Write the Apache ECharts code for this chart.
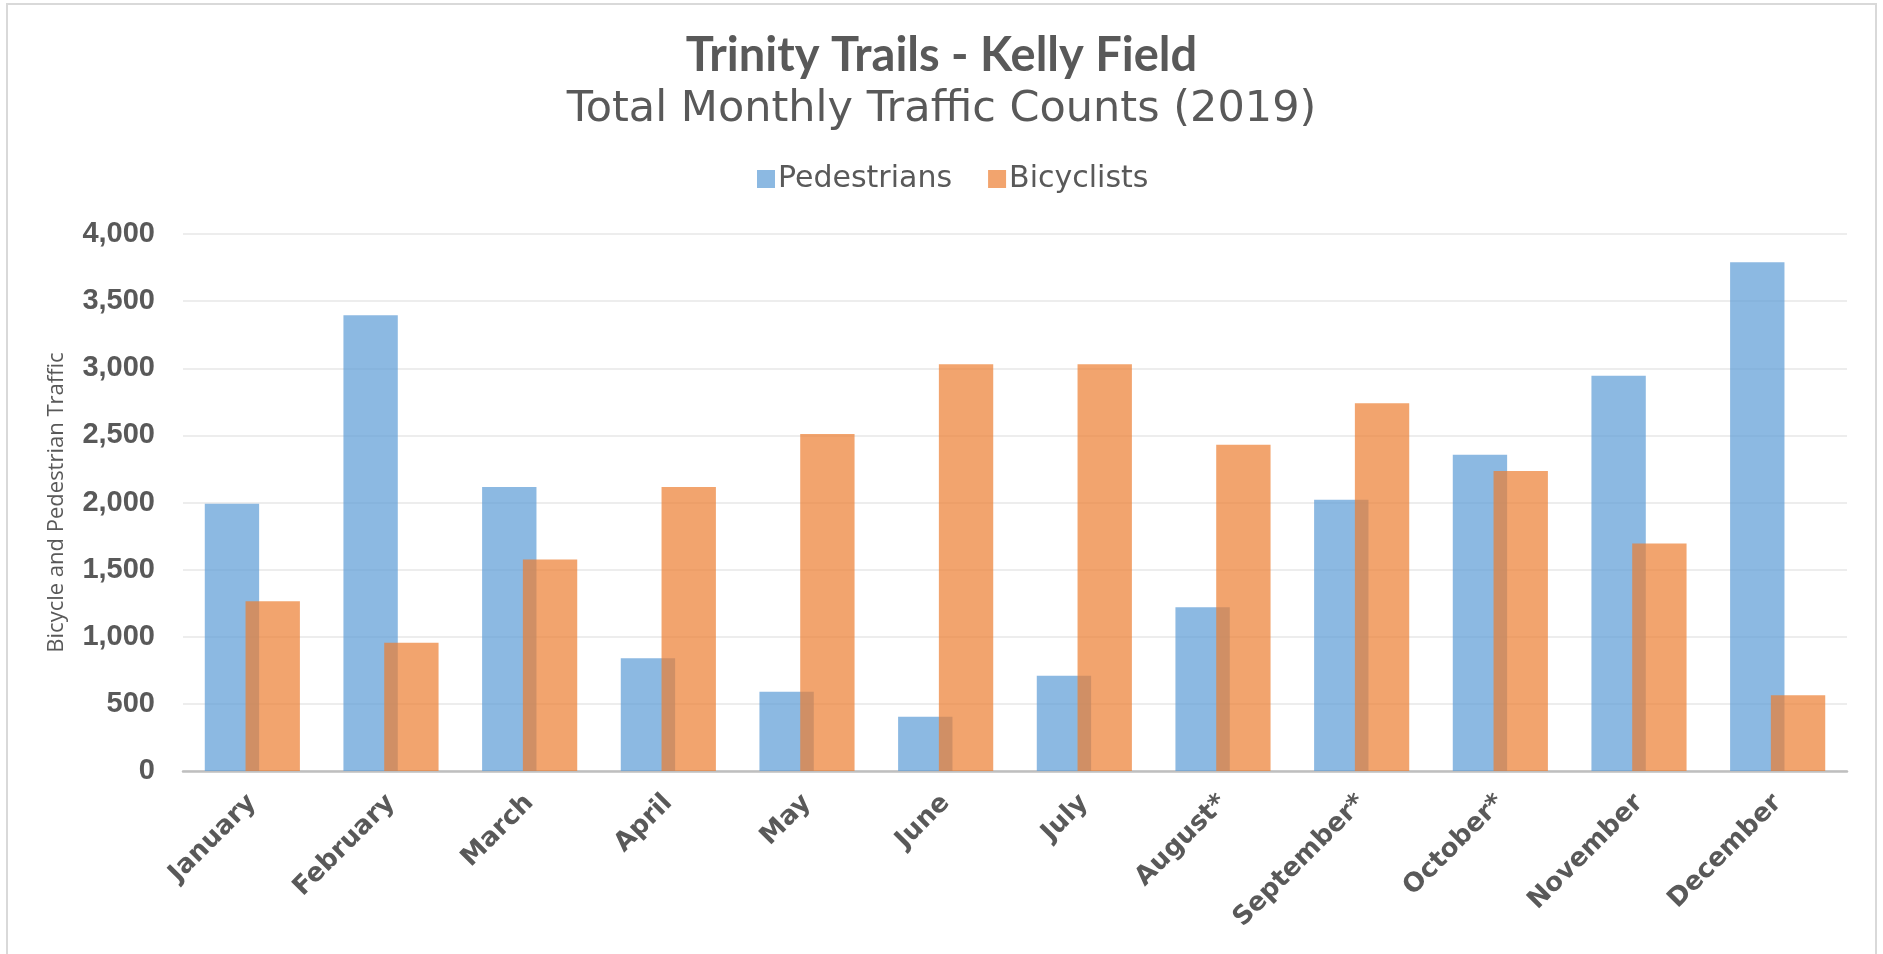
<!DOCTYPE html>
<html>
<head>
<meta charset="utf-8">
<title>Trinity Trails - Kelly Field</title>
<script src="https://cdn.jsdelivr.net/npm/echarts@6/dist/echarts.min.js"></script>
<style>
  html, body { margin: 0; padding: 0; background: #fff; }
  #chart { width: 1883px; height: 954px; }
</style>
</head>
<body>
<div id="chart"></div>
<script>
// 月份
const months = ["January", "February", "March", "April", "May", "June", "July", "August*", "September*", "October*", "November", "December"];
// 行人
const pedestrians = [1990, 3395, 2115, 840, 590, 405, 710, 1220, 2020, 2355, 2945, 3790];
// 骑行
const bicyclists = [1265, 955, 1575, 2115, 2510, 3030, 3030, 2430, 2740, 2235, 1695, 565];

const textColor = "#595959";

const chart = echarts.init(document.getElementById("chart"));

const option = {
  backgroundColor: "#fff",
  animation: false,
  // 外边框
  graphic: [
    {
      type: "rect",
      shape: { x: 7, y: 4, width: 1869, height: 970 },
      style: { fill: "none", stroke: "#D9D9D9", lineWidth: 2 },
      silent: true
    }
  ],
  title: [
    {
      text: "Trinity Trails - Kelly Field",
      left: "center",
      top: 27,
      textStyle: {
        fontFamily: "Lato",
        fontWeight: "bold",
        fontSize: 47,
        lineHeight: 47,
        color: textColor
      }
    },
    {
      text: "Total Monthly Traffic Counts (2019)",
      left: "center",
      top: 83,
      textStyle: {
        fontFamily: "DejaVu Sans",
        fontWeight: "normal",
        fontSize: 43,
        lineHeight: 43,
        color: textColor
      }
    }
  ],
  legend: {
    data: ["Pedestrians", "Bicyclists"],
    left: 752,
    top: 159,
    itemWidth: 18,
    itemHeight: 18,
    itemGap: 36,
    icon: "rect",
    textStyle: {
      fontFamily: "DejaVu Sans",
      fontSize: 30,
      lineHeight: 30,
      color: textColor,
      padding: [0, 0, 0, -2]
    }
  },
  grid: {
    left: 183,
    right: 36,
    top: 234,
    bottom: 183
  },
  xAxis: {
    type: "category",
    data: months,
    axisTick: { show: false },
    axisLine: {
      lineStyle: { color: "#BFBFBF", width: 2.5 }
    },
    axisLabel: {
      interval: 0,
      rotate: 45,
      margin: 28,
      fontFamily: "DejaVu Sans",
      fontWeight: "bold",
      fontSize: 26,
      color: textColor
    }
  },
  yAxis: {
    type: "value",
    min: 0,
    max: 4000,
    interval: 500,
    name: "Bicycle and Pedestrian Traffic",
    nameLocation: "middle",
    nameGap: 115,
    nameTextStyle: {
      fontFamily: "Open Sans",
      fontSize: 22,
      color: textColor
    },
    axisLine: { show: false },
    axisTick: { show: false },
    axisLabel: {
      margin: 28,
      fontFamily: "Liberation Sans",
      fontWeight: "bold",
      fontSize: 29,
      color: textColor,
      formatter: (v) => v.toLocaleString("en-US")
    },
    splitLine: {
      lineStyle: { color: "#EDEDED", width: 2 }
    }
  },
  series: [
    {
      name: "Pedestrians",
      type: "bar",
      data: pedestrians,
      barWidth: "39.2%",
      barGap: "-25%",
      itemStyle: { color: "#5B9BD5", opacity: 0.7 }
    },
    {
      name: "Bicyclists",
      type: "bar",
      data: bicyclists,
      barWidth: "39.2%",
      barGap: "-25%",
      itemStyle: { color: "#ED7D31", opacity: 0.7 }
    }
  ]
};

chart.setOption(option);
</script>
</body>
</html>
